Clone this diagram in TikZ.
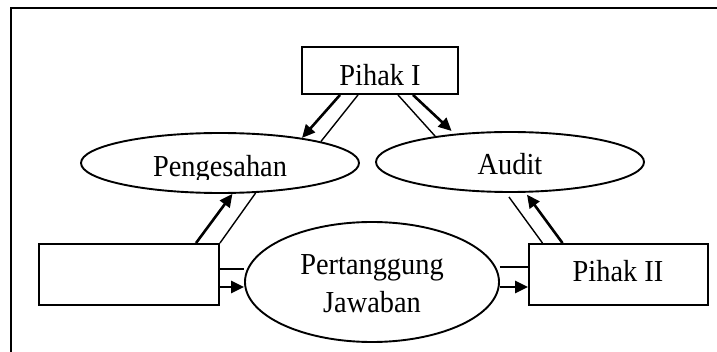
\documentclass[tikz,border=0pt]{standalone}
\usepackage{fontspec}
\setmainfont{Liberation Serif}[FakeStretch=0.93]
\usetikzlibrary{arrows.meta,shapes.geometric}
\tikzset{
  boxnode/.style={draw, line width=1.9pt, minimum width=#1, inner sep=0pt},
  ellnode/.style={draw, ellipse, line width=1.9pt, inner sep=0pt},
  txt/.style={anchor=base, inner sep=0pt, font=\fontsize{30.5}{38}\selectfont, align=center},
  plain/.style={line width=1.4pt},
  arr/.style={line width=2.6pt, -{Triangle[length=13pt,width=12pt]}},
}
\begin{document}
\begin{tikzpicture}[x=1pt,y=-1pt]
\useasboundingbox (0,0) rectangle (717,352);
% frame
\draw[line width=2.6pt] (11,352) -- (11,8) -- (717,8);
% nodes
\node[boxnode=156pt, minimum height=47pt] (p1) at (380,70.5) {};
\node[boxnode=180pt, minimum height=61pt] (lb) at (129,274.5) {};
\node[boxnode=179pt, minimum height=61pt] (p2) at (618.5,274.5) {};
\node[ellnode, minimum width=278pt, minimum height=60pt] (peng) at (220,163) {};
\node[ellnode, minimum width=268pt, minimum height=60pt] (aud) at (510,162) {};
\node[ellnode, minimum width=254pt, minimum height=120pt] (pj) at (372,282) {};
% texts
\node[txt] (p1t) at (380,86) {Pihak I};
\node[txt] (p2t) at (618,282) {Pihak II};
\begin{scope}
  \clip (140,140) rectangle (300,179.5);
  \node[txt] (pengt) at (220,176.5) {Pengesahan};
\end{scope}
\node[txt] (audt) at (510,175) {Audit};
\node[txt] (pjt1) at (372,275) {Pertanggung};
\node[txt] (pjt2) at (372,313) {Jawaban};
% Pihak I -- Pengesahan
\draw[arr] ([xshift=-40pt]p1.south) -- (peng.17);
\draw[plain] ([xshift=-22pt]p1.south) -- (peng.12);
% Pihak I -- Audit
\draw[plain] ([xshift=18pt]p1.south) -- (aud.161);
\draw[arr] ([xshift=33pt]p1.south) -- ([shift={(-1pt,3pt)}]aud.154);
% left box -- Pengesahan
\draw[arr] ([xshift=67pt]lb.north) -- (peng.-68);
\draw[plain] (lb.north east) -- (peng.-40);
% Pihak II -- Audit
\draw[plain] ([xshift=-76pt]p2.north) -- ([yshift=-4pt]aud.-92);
\draw[arr] ([xshift=-56pt]p2.north) -- ([yshift=-2pt]aud.-61);
% left box -- Pertanggung
\draw[plain] ([yshift=5.5pt]lb.east) -- ([yshift=5.5pt]lb.east -| pj.west);
\draw[arr] ([yshift=-12.5pt]lb.east) -- ([yshift=-12.5pt]lb.east -| pj.west);
% Pertanggung -- Pihak II
\draw[plain] ([yshift=7.5pt]p2.west -| pj.east) -- ([yshift=7.5pt]p2.west);
\draw[arr] ([yshift=-12.5pt]p2.west -| pj.east) -- ([yshift=-12.5pt]p2.west);
\end{tikzpicture}
\end{document}
